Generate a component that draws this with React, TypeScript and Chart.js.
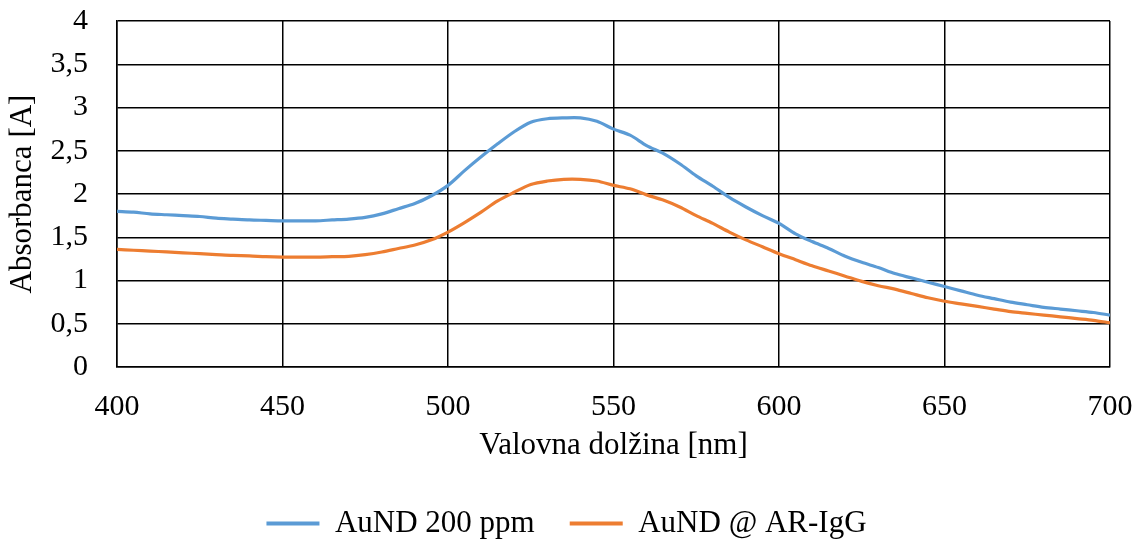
import React, { useEffect, useRef } from 'react';
import { Chart, registerables } from 'chart.js';

Chart.register(...registerables);

const wavelengths = [
  400, 405, 410, 415, 420, 425, 430, 435, 440, 445,
  450, 455, 460, 465, 470, 475, 480, 485, 490, 495,
  500, 505, 510, 515, 520, 525, 530, 535, 540, 545,
  550, 555, 560, 565, 570, 575, 580, 585, 590, 595,
  600, 605, 610, 615, 620, 625, 630, 635, 640, 645,
  650, 655, 660, 665, 670, 675, 680, 685, 690, 695, 700,
];

const aund200 = [
  1.80, 1.79, 1.77, 1.76, 1.75, 1.74, 1.72, 1.71, 1.70, 1.695,
  1.69, 1.69, 1.69, 1.70, 1.71, 1.73, 1.77, 1.83, 1.89, 1.98,
  2.10, 2.27, 2.43, 2.58, 2.72, 2.83, 2.87, 2.88, 2.88, 2.84,
  2.75, 2.68, 2.56, 2.47, 2.35, 2.21, 2.09, 1.96, 1.85, 1.75,
  1.66, 1.54, 1.45, 1.37, 1.28, 1.21, 1.15, 1.08, 1.03, 0.98,
  0.93, 0.88, 0.83, 0.79, 0.75, 0.72, 0.69, 0.67, 0.65, 0.63, 0.60,
];

const aundIgG = [
  1.36, 1.35, 1.34, 1.33, 1.32, 1.31, 1.30, 1.29, 1.285, 1.275,
  1.27, 1.27, 1.27, 1.275, 1.28, 1.30, 1.33, 1.37, 1.41, 1.47,
  1.56, 1.67, 1.79, 1.92, 2.02, 2.11, 2.15, 2.17, 2.17, 2.15,
  2.10, 2.06, 1.99, 1.93, 1.85, 1.75, 1.66, 1.56, 1.47, 1.39,
  1.31, 1.24, 1.17, 1.11, 1.05, 0.99, 0.94, 0.90, 0.85, 0.80,
  0.76, 0.73, 0.70, 0.67, 0.64, 0.62, 0.60, 0.58, 0.56, 0.54, 0.51,
];

const seriesNames = ['AuND 200 ppm', 'AuND @ AR-IgG'];
const seriesColors = ['#5B9BD5', '#ED7D31'];
const xTitle = 'Valovna dolžina [nm]';
const yTitle = 'Absorbanca [A]';

const FONT = "'Liberation Serif', 'Times New Roman', serif";

export default function App() {
  const canvasRef = useRef<HTMLCanvasElement | null>(null);

  useEffect(() => {
    document.body.style.margin = '0';
    const canvas = canvasRef.current;
    if (!canvas) return;
    const toPts = (vals: number[]) => wavelengths.map((x, i) => ({ x, y: vals[i] }));
    const chart = new Chart(canvas, {
      type: 'line',
      data: {
        datasets: [
          {
            label: seriesNames[0],
            data: toPts(aund200),
            borderColor: seriesColors[0],
            backgroundColor: seriesColors[0],
            borderWidth: 3.2,
            pointRadius: 0,
            tension: 0.3,
          },
          {
            label: seriesNames[1],
            data: toPts(aundIgG),
            borderColor: seriesColors[1],
            backgroundColor: seriesColors[1],
            borderWidth: 3.2,
            pointRadius: 0,
            tension: 0.3,
          },
        ],
      },
      options: {
        responsive: false,
        animation: false,
        devicePixelRatio: 1,
        layout: { padding: { top: 2, right: 8, left: 0, bottom: 0 } },
        plugins: {
          tooltip: { enabled: false },
          legend: {
            position: 'bottom',
            labels: {
              color: '#000',
              font: { family: FONT, size: 31 },
              boxWidth: 53,
              boxHeight: 4,
              padding: 35,
              generateLabels: (ch: any) => {
                const items = Chart.defaults.plugins.legend.labels.generateLabels(ch);
                return items.map((it: any) => ({ ...it, lineWidth: 0, fillStyle: it.strokeStyle }));
              },
            },
          },
        },
        scales: {
          x: {
            type: 'linear',
            min: 400,
            max: 700,
            ticks: {
              stepSize: 50,
              color: '#000',
              font: { family: FONT, size: 30 },
              padding: 22,
              maxRotation: 0,
            },
            grid: { color: '#000', lineWidth: 1.5, drawTicks: false },
            border: { color: '#000', width: 1.5 },
            title: {
              display: true,
              text: xTitle,
              color: '#000',
              font: { family: FONT, size: 31 },
              padding: { top: 0, bottom: 9 },
            },
            afterFit: (scale: any) => {
              scale.height = 106;
              scale.paddingLeft = 23;
              scale.paddingRight = 31;
            },
          },
          y: {
            min: 0,
            max: 4,
            ticks: {
              stepSize: 0.5,
              color: '#000',
              font: { family: FONT, size: 30 },
              padding: 29,
              callback: (v: any) => String(v).replace('.', ','),
            },
            grid: { color: '#000', lineWidth: 1.5, drawTicks: false },
            border: { color: '#000', width: 1.5 },
            title: {
              display: true,
              text: yTitle,
              color: '#000',
              font: { family: FONT, size: 31 },
              padding: { top: 4, bottom: 0 },
            },
            afterFit: (scale: any) => {
              scale.width = 117;
              scale.paddingTop = 21;
              scale.paddingBottom = 0;
            },
          },
        },
      },
    });
    return () => chart.destroy();
  }, []);

  return (
    <div style={{ position: 'absolute', left: 0, top: 0, width: 1141, height: 542, overflow: 'hidden', background: '#fff' }}>
      <canvas ref={canvasRef} width={1141} height={549} style={{ width: 1141, height: 549, display: 'block' }} />
    </div>
  );
}
